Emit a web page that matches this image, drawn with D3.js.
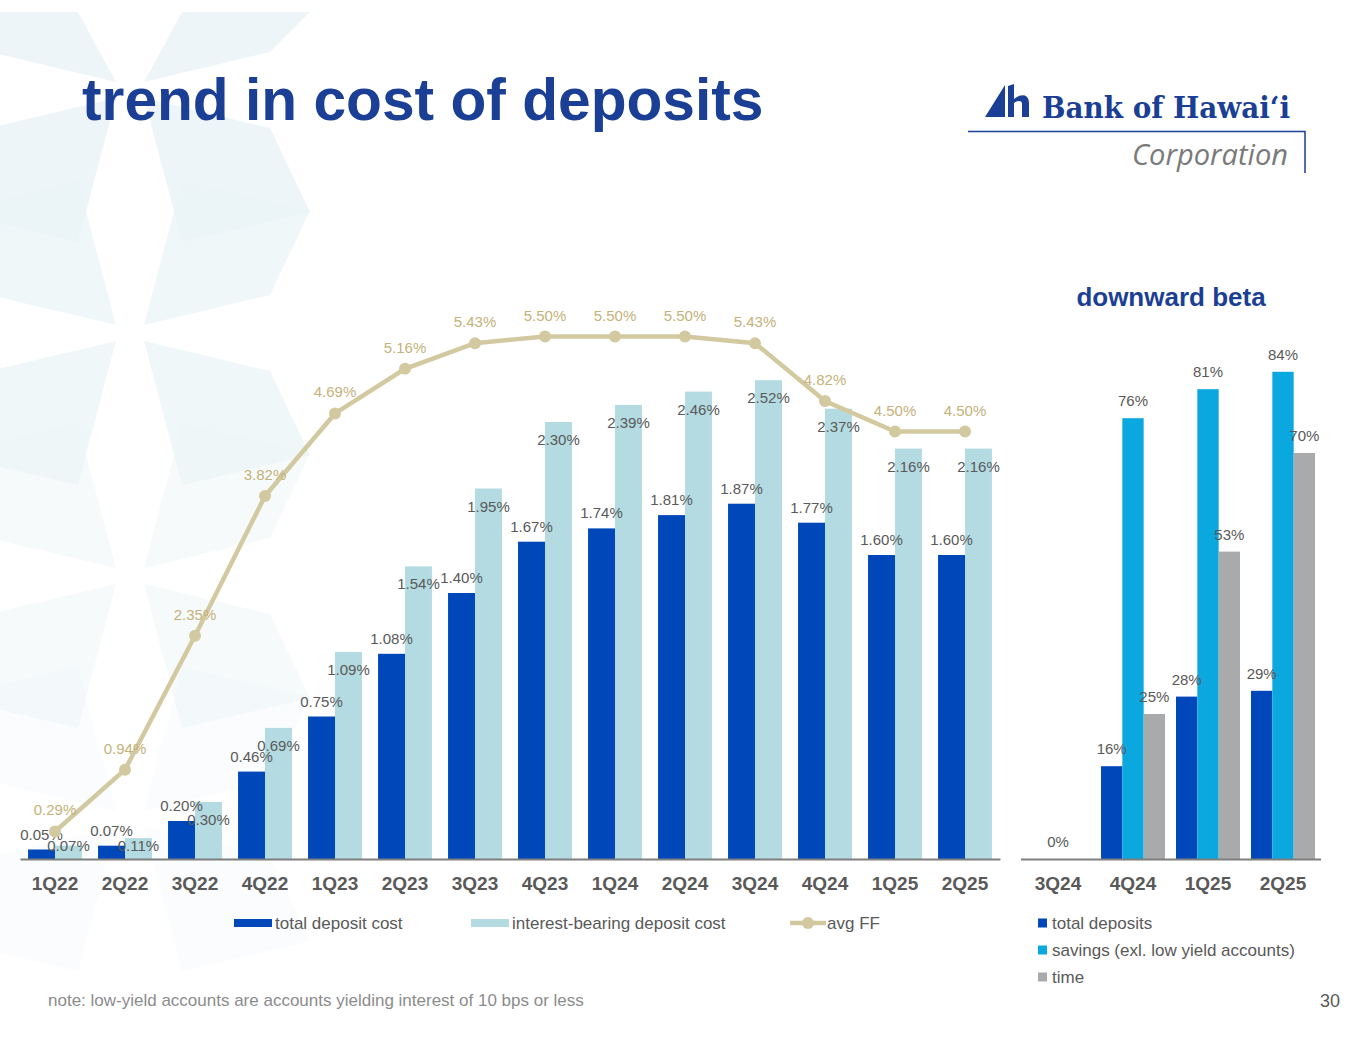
<!DOCTYPE html>
<html>
<head>
<meta charset="utf-8">
<script src="https://cdn.jsdelivr.net/npm/d3@7"></script>
<style>
	body { margin: 0; background: #fff; }
	svg { display: block; font-family: "Liberation Sans", Arial, sans-serif; }
</style>
</head>
<body>
<svg id="slide" width="1365" height="1055"></svg>
<script>
	"use strict";

	// cost of deposits, by quarter (%)
	var quarters = ["1Q22", "2Q22", "3Q22", "4Q22", "1Q23", "2Q23", "3Q23", "4Q23", "1Q24", "2Q24", "3Q24", "4Q24", "1Q25", "2Q25"];
	var totalCost = [0.05, 0.07, 0.20, 0.46, 0.75, 1.08, 1.40, 1.67, 1.74, 1.81, 1.87, 1.77, 1.60, 1.60];
	var ibCost = [0.07, 0.11, 0.30, 0.69, 1.09, 1.54, 1.95, 2.30, 2.39, 2.46, 2.52, 2.37, 2.16, 2.16];
	var avgFF = [0.29, 0.94, 2.35, 3.82, 4.69, 5.16, 5.43, 5.50, 5.50, 5.50, 5.43, 4.82, 4.50, 4.50];
	var costSeries = ["total deposit cost", "interest-bearing deposit cost", "avg FF"];

	// downward beta (%)
	var betaQuarters = ["3Q24", "4Q24", "1Q25", "2Q25"];
	var betaTotal = [null, 16, 28, 29];
	var betaSavings = [0, 76, 81, 84];
	var betaTime = [null, 25, 53, 70];
	var betaSeries = ["total deposits", "savings (exl. low yield accounts)", "time"];

	var navy = "#1b3f95",
		textGrey = "#595959",
		dark = "#0047ba",
		light = "#b4dbe1",
		tan = "#d3c9a0",
		tanText = "#c4b27a",
		cyan = "#0ba7df",
		grey = "#a8aaab";

	var svg = d3.select("#slide");
	var pct = function(v) { return v.toFixed(2) + "%"; };

	// faint star pattern behind the title
	var starCentres = [[130, 90, 0.8], [130, 333, 0.7], [130, 576, 0.45], [130, 819, 0.25]];
	var bg = svg.append("g");
	starCentres.forEach(function(c) {
		[[1, 1], [1, -1], [-1, 1], [-1, -1]].forEach(function(s) {
			var pts = [[c[0] + s[0] * 14, c[1] + s[1] * 8], [c[0] + s[0] * 52, c[1] + s[1] * 152],
				[c[0] + s[0] * 180, c[1] + s[1] * 122], [c[0] + s[0] * 140, c[1] + s[1] * 38]];
			bg.append("polygon")
				.attr("points", pts.map(function(p) { return [p[0], Math.max(12, p[1])].join(","); }).join(" "))
				.attr("fill", "#eaf3f6")
				.attr("opacity", c[2]);
		});
	});

	// title
	svg.append("text")
		.attr("x", 82).attr("y", 120)
		.attr("font-size", 58.7).attr("font-weight", "bold")
		.attr("fill", navy)
		.text("trend in cost of deposits");

	// logo
	var logo = svg.append("g");
	logo.append("path")
		.attr("d", "M985,117 L1005,85 L1005,117 Z")
		.attr("fill", navy);
	logo.append("path")
		.attr("d", "M1008,86 L1014,84 L1014,99 Q1020,94 1025,95.5 Q1029,97.5 1029,103 L1029,117 L1022,117 L1022,104 Q1022,101 1019,101 Q1016,101 1014,103 L1014,117 L1008,117 Z")
		.attr("fill", navy);
	logo.append("text")
		.attr("x", 1042).attr("y", 118)
		.attr("font-family", "'DejaVu Serif', serif")
		.attr("font-size", 30).attr("font-weight", "bold")
		.attr("textLength", 248).attr("lengthAdjust", "spacingAndGlyphs")
		.attr("fill", navy)
		.text("Bank of Hawai\u2018i");
	logo.append("path")
		.attr("d", "M968,131.5 H1305 V173")
		.attr("fill", "none").attr("stroke", navy).attr("stroke-width", 1.5);
	logo.append("text")
		.attr("x", 1132).attr("y", 165)
		.attr("font-family", "'Open Sans', sans-serif")
		.attr("font-size", 29).attr("font-style", "italic")
		.attr("textLength", 156).attr("lengthAdjust", "spacingAndGlyphs")
		.attr("fill", "#7a7a7a")
		.text("Corporation");

	// ---- left chart: cost of deposits ----
	var base = 859;
	var x0 = d3.scaleBand().domain(quarters).range([20, 1000]).paddingInner(0.23).paddingOuter(0.115);
	var x1 = d3.scaleBand().domain(["total", "ib"]).range([0, x0.bandwidth()]);
	var yBar = d3.scaleLinear().domain([0, 3]).range([base, 289]);
	var yLine = d3.scaleLinear().domain([0, 6]).range([base, 289]);

	var left = svg.append("g");
	var groups = left.selectAll("g.qtr")
		.data(quarters.map(function(q, i) { return {q: q, total: totalCost[i], ib: ibCost[i], ff: avgFF[i]}; }))
		.enter().append("g")
		.attr("class", "qtr")
		.attr("transform", function(d) { return "translate(" + x0(d.q) + ",0)"; });

	groups.append("rect")
		.attr("x", x1("total")).attr("width", x1.bandwidth())
		.attr("y", function(d) { return yBar(d.total); })
		.attr("height", function(d) { return base - yBar(d.total); })
		.attr("fill", dark);
	groups.append("rect")
		.attr("x", x1("ib")).attr("width", x1.bandwidth())
		.attr("y", function(d) { return yBar(d.ib); })
		.attr("height", function(d) { return base - yBar(d.ib); })
		.attr("fill", light);

	var axisL = left.append("g")
		.attr("transform", "translate(0," + base + ")")
		.call(d3.axisBottom(x0).tickSize(0).tickSizeOuter(0).tickPadding(18));
	axisL.select(".domain").attr("stroke", "#7f7f7f").attr("stroke-width", 2);
	axisL.selectAll("text")
		.attr("font-size", 19).attr("font-weight", "bold")
		.attr("font-family", "'Liberation Sans', Arial, sans-serif")
		.attr("fill", textGrey);

	var line = d3.line()
		.x(function(d) { return x0(d.q) + x0.bandwidth() / 2; })
		.y(function(d) { return yLine(d.ff); });
	left.append("path")
		.datum(groups.data())
		.attr("d", line)
		.attr("fill", "none").attr("stroke", tan).attr("stroke-width", 4.5);
	left.selectAll("circle.ff")
		.data(groups.data())
		.enter().append("circle")
		.attr("class", "ff")
		.attr("cx", function(d) { return x0(d.q) + x0.bandwidth() / 2; })
		.attr("cy", function(d) { return yLine(d.ff); })
		.attr("r", 6)
		.attr("fill", tan);

	// data labels
	groups.append("text")
		.attr("x", x1("total") + x1.bandwidth() / 2)
		.attr("y", function(d) { return yBar(d.total) - 10; })
		.attr("text-anchor", "middle").attr("font-size", 15).attr("fill", textGrey)
		.text(function(d) { return pct(d.total); });
	groups.append("text")
		.attr("x", x1("ib") + x1.bandwidth() / 2)
		.attr("y", function(d) { return Math.min(yBar(d.ib) + 23, 851); })
		.attr("text-anchor", "middle").attr("font-size", 15).attr("fill", textGrey)
		.text(function(d) { return pct(d.ib); });
	left.selectAll("text.ff")
		.data(groups.data())
		.enter().append("text")
		.attr("class", "ff")
		.attr("x", function(d) { return x0(d.q) + x0.bandwidth() / 2; })
		.attr("y", function(d) { return yLine(d.ff) - 16; })
		.attr("text-anchor", "middle").attr("font-size", 15).attr("fill", tanText)
		.text(function(d) { return pct(d.ff); });

	// legend
	var legL = left.append("g").attr("font-size", 17).attr("fill", textGrey);
	var legX = [234, 471, 790];
	costSeries.forEach(function(name, i) {
		var g = legL.append("g").attr("transform", "translate(" + legX[i] + ",923)");
		if (i < 2) {
			g.append("rect").attr("x", 0).attr("y", -4).attr("width", 38).attr("height", 8)
				.attr("fill", i === 0 ? dark : light);
		} else {
			g.append("line").attr("x1", 0).attr("x2", 36).attr("stroke", tan).attr("stroke-width", 4.5);
			g.append("circle").attr("cx", 18).attr("r", 6).attr("fill", tan);
		}
		g.append("text").attr("x", i < 2 ? 41 : 37).attr("y", 6).text(name);
	});

	// ---- right chart: downward beta ----
	var bx0 = d3.scaleBand().domain(betaQuarters).range([1020.5, 1320.5]).paddingInner(0.147).paddingOuter(0.0735);
	var bx1 = d3.scaleBand().domain(["total", "savings", "time"]).range([0, bx0.bandwidth()]);
	var by = d3.scaleLinear().domain([0, 100]).range([base, 279]);
	var betaColors = {total: dark, savings: cyan, time: grey};

	var right = svg.append("g");
	right.append("text")
		.attr("x", 1171).attr("y", 306)
		.attr("text-anchor", "middle")
		.attr("font-size", 26).attr("font-weight", "bold")
		.attr("fill", navy)
		.text("downward beta");

	var betaCells = [];
	betaQuarters.forEach(function(q, i) {
		betaCells.push({q: q, k: "total", v: betaTotal[i]});
		betaCells.push({q: q, k: "savings", v: betaSavings[i]});
		betaCells.push({q: q, k: "time", v: betaTime[i]});
	});
	betaCells = betaCells.filter(function(d) { return d.v !== null; });

	right.selectAll("rect.beta")
		.data(betaCells)
		.enter().append("rect")
		.attr("class", "beta")
		.attr("x", function(d) { return bx0(d.q) + bx1(d.k); })
		.attr("width", bx1.bandwidth())
		.attr("y", function(d) { return by(d.v); })
		.attr("height", function(d) { return base - by(d.v); })
		.attr("fill", function(d) { return betaColors[d.k]; });

	var axisR = right.append("g")
		.attr("transform", "translate(0," + base + ")")
		.call(d3.axisBottom(bx0).tickSize(0).tickSizeOuter(0).tickPadding(18));
	axisR.select(".domain").attr("stroke", "#7f7f7f").attr("stroke-width", 2);
	axisR.selectAll("text")
		.attr("font-size", 19).attr("font-weight", "bold")
		.attr("font-family", "'Liberation Sans', Arial, sans-serif")
		.attr("fill", textGrey);

	right.selectAll("text.beta")
		.data(betaCells)
		.enter().append("text")
		.attr("class", "beta")
		.attr("x", function(d) { return bx0(d.q) + bx1(d.k) + bx1.bandwidth() / 2; })
		.attr("y", function(d) { return by(d.v) - 12; })
		.attr("text-anchor", "middle").attr("font-size", 15).attr("fill", textGrey)
		.text(function(d) { return d.v + "%"; });

	var legR = right.append("g").attr("font-size", 17).attr("fill", textGrey);
	betaSeries.forEach(function(name, i) {
		var g = legR.append("g").attr("transform", "translate(1038," + (923 + i * 27) + ")");
		g.append("rect").attr("x", 0).attr("y", -4.5).attr("width", 9).attr("height", 9)
			.attr("fill", [dark, cyan, grey][i]);
		g.append("text").attr("x", 14).attr("y", 6).text(name);
	});

	// footer
	svg.append("text")
		.attr("x", 48).attr("y", 1006)
		.attr("font-size", 17).attr("fill", "#8c8c8c")
		.text("note: low-yield accounts are accounts yielding interest of 10 bps or less");
	svg.append("text")
		.attr("x", 1340).attr("y", 1007)
		.attr("text-anchor", "end")
		.attr("font-size", 18).attr("fill", textGrey)
		.text("30");
</script>
</body>
</html>
